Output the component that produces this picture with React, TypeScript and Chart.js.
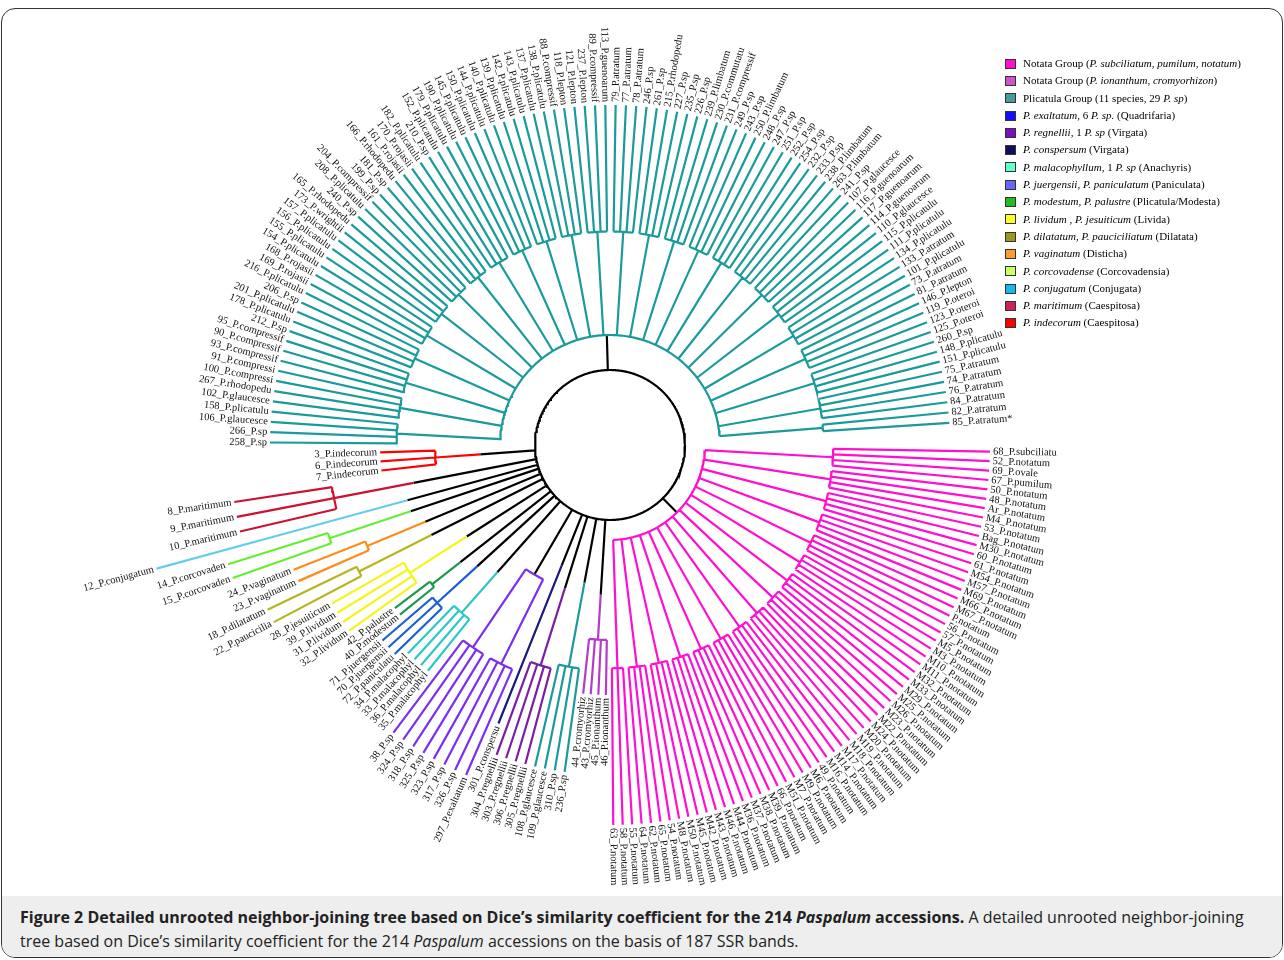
import React, { useEffect, useRef } from "react";
import Chart from "chart.js/auto";

// leaves of each clade, in clockwise order starting from the east
const magentaLeaves = ["68_P.subciliatu", "52_P.notatum", "69_P.ovale", "67_P.pumilum", "50_P.notatum", "48_P.notatum", "Ar_P.notatum", "M4_P.notatum", "53_P.notatum", "Bag_P.notatum", "M30_P.notatum", "60_P.notatum", "61_P.notatum", "M54_P.notatum", "M57_P.notatum", "M69_P.notatum", "M66_P.notatum", "M67_P.notatum", "P.notatum", "56_P.notatum", "57_P.notatum", "M5_P.notatum", "M3_P.notatum", "M10_P.notatum", "M11_P.notatum", "M32_P.notatum", "M33_P.notatum", "M29_P.notatum", "M25_P.notatum", "M26_P.notatum", "M23_P.notatum", "M22_P.notatum", "M24_P.notatum", "M20_P.notatum", "M19_P.notatum", "M18_P.notatum", "M17_P.notatum", "M14_P.notatum", "M16_P.notatum", "49_P.notatum", "M6_P.notatum", "M9_P.notatum", "M7_P.notatum", "M51_P.notatum", "66_P.notatum", "M39_P.notatum", "M38_P.notatum", "M37_P.notatum", "M36_P.notatum", "M44_P.notatum", "M46_P.notatum", "M43_P.notatum", "M42_P.notatum", "M45_P.notatum", "M50_P.notatum", "M8_P.notatum", "54_P.notatum", "65_P.notatum", "62_P.notatum", "64_P.notatum", "55_P.notatum", "58_P.notatum", "63_P.notatum"];
const ionanthumLeaves = ["46_P.ionanthum", "45_P.ionanthum", "43_P.cromyorhiz", "44_P.cromyorhiz"];
const tealSmallLeaves = ["236_P.sp", "310_P.sp", "109_P.glaucesce", "108_P.glaucesce"];
const regnelliiLeaves = ["305_P.regnellii", "306_P.regnellii", "303_P.regnellii", "304_P.regnellii"];
const conspersumLeaves = ["301_P.conspersu"];
const quadrifariaLeaves = ["297_P.exaltatum", "326_P.sp", "317_P.sp", "323_P.sp", "325_P.sp", "318_P.sp", "324_P.sp", "38_P.sp"];
const malacoLeaves = ["35_P.malacophyl", "36_P.malacophyl", "33_P.malacophyl", "34_P.malacophyl"];
const paniculataLeaves = ["72_P.paniculatu", "70_P.juergensii", "71_P.juergensii"];
const modestaLeaves = ["40_P.modestum", "42_P.palustre"];
const lividaLeaves = ["32_P.lividum", "31_P.lividum", "39_P.lividum", "28_P.jesuiticum"];
const dilatataLeaves = ["22_P.paucicilia", "18_P.dilatatum"];
const distichaLeaves = ["23_P.vaginatum", "24_P.vaginatum"];
const corcoLeaves = ["15_P.corcovaden", "14_P.corcovaden"];
const conjugataLeaves = ["12_P.conjugatum"];
const maritimumLeaves = ["10_P.maritimum", "9_P.maritimum", "8_P.maritimum"];
const indecorumLeaves = ["7_P.indecorum", "6_P.indecorum", "3_P.indecorum"];
const plicatulaLeaves = ["258_P.sp", "266_P.sp", "106_P.glaucesce", "158_P.plicatulu", "102_P.glaucesce", "267_P.rhodopedu", "100_P.compressi", "91_P.compressi", "93_P.compressif", "90_P.compressif", "95_P.compressif", "212_P.sp", "178_P.plicatulu", "201_P.plicatulu", "206_P.sp", "216_P.plicatulu", "169_P.rojasii", "168_P.rojasii", "154_P.plicatulu", "155_P.plicatulu", "156_P.plicatulu", "157_P.plicatulu", "173_P.wrightii", "165_P.rhodopedu", "240_P.sp", "208_P.plicatulu", "204_P.compressif", "199_P.sp", "181_P.sp", "166_P.rhodopedu", "161_P.rojasii", "170_P.rojasii", "182_P.plicatulu", "210_P.sp", "152_P.plicatulu", "179_P.plicatulu", "190_P.plicatulu", "145_P.plicatulu", "150_P.plicatulu", "144_P.plicatulu", "140_P.plicatulu", "139_P.plicatulu", "142_P.plicatulu", "143_P.plicatulu", "137_P.plicatulu", "138_P.plicatulu", "88_P.compressif", "118_P.lepton", "121_P.lepton", "237_P.lepton", "89_P.compressif", "113_P.guenoarum", "79_P.atratum", "77_P.atratum", "78_P.atratum", "246_P.sp", "261_P.sp", "215_P.rhodopedu", "227_P.sp", "235_P.sp", "226_P.sp", "239_P.limbatum", "230_P.commutatu", "231_P.compressif", "249_P.sp", "243_P.sp", "250_P.limbatum", "248_P.sp", "247_P.sp", "251_P.sp", "252_P.sp", "254_P.sp", "232_P.sp", "233_P.sp", "238_P.limbatum", "263_P.limbatum", "241_P.sp", "107_P.glaucesce", "116_P.guenoarum", "117_P.guenoarum", "114_P.guenoarum", "110_P.glaucesce", "115_P.plicatulu", "111_P.plicatulu", "134_P.plicatulu", "133_P.atratum", "101_P.plicatulu", "73_P.atratum", "81_P.atratum", "146_P.lepton", "119_P.oteroi", "123_P.oteroi", "125_P.oteroi", "260_P.sp", "148_P.plicatulu", "151_P.plicatulu", "75_P.atratum", "74_P.atratum", "76_P.atratum", "84_P.atratum", "82_P.atratum", "85_P.atratum*"];

// clade table: leaves, colour, node radius, tip radius, relative leaf spacing
const clades = [
  { leaves: magentaLeaves, color: "#ff10d0", node: 95, tip: 380, spread: 0.82 },
  { leaves: ionanthumLeaves, color: "#b43cc8", node: 150, tip: 250, spread: 1 },
  { leaves: tealSmallLeaves, color: "#1a9a9a", node: 140, tip: 330, spread: 1 },
  { leaves: regnelliiLeaves, color: "#7a1fa0", node: 150, tip: 330, spread: 1 },
  { leaves: conspersumLeaves, color: "#1a1a7a", node: 130, tip: 300, spread: 1 },
  { leaves: quadrifariaLeaves, color: "#7b2ff0", node: 150, tip: 360, spread: 1.1 },
  { leaves: malacoLeaves, color: "#2cc8c8", node: 170, tip: 290, spread: 1 },
  { leaves: paniculataLeaves, color: "#1a5fd6", node: 180, tip: 300, spread: 1 },
  { leaves: modestaLeaves, color: "#1a9a4a", node: 190, tip: 270, spread: 1 },
  { leaves: lividaLeaves, color: "#f5f51a", node: 170, tip: 320, spread: 1.1 },
  { leaves: dilatataLeaves, color: "#b5b520", node: 200, tip: 380, spread: 1.2 },
  { leaves: distichaLeaves, color: "#ff8c1a", node: 200, tip: 340, spread: 1.2 },
  { leaves: corcoLeaves, color: "#66ee33", node: 210, tip: 400, spread: 1.2 },
  { leaves: conjugataLeaves, color: "#66ccee", node: 210, tip: 470, spread: 1.2 },
  { leaves: maritimumLeaves, color: "#cc1133", node: 200, tip: 380, spread: 1.3 },
  { leaves: indecorumLeaves, color: "#ff0000", node: 130, tip: 230, spread: 1.3 },
  { leaves: plicatulaLeaves, color: "#1a9a9a", node: 110, tip: 340, spread: 1 },
];

const legendItems: [string, React.ReactNode][] = [
  ["#ff10d0", <>Notata Group (<i>P. subciliatum, pumilum, notatum</i>)</>],
  ["#cc55cc", <>Notata Group (<i>P. ionanthum, cromyorhizon</i>)</>],
  ["#4a9a9a", <>Plicatula Group (11 species, 29&nbsp;<i>P. sp</i>)</>],
  ["#1010ff", <><i>P. exaltatum</i>, 6&nbsp;<i>P. sp.</i>&nbsp;(Quadrifaria)</>],
  ["#7a10c0", <><i>P. regnellii</i>, 1&nbsp;<i>P. sp</i>&nbsp;(Virgata)</>],
  ["#10105a", <><i>P. conspersum</i>&nbsp;(Virgata)</>],
  ["#66ffcc", <><i>P. malacophyllum</i>, 1&nbsp;<i>P. sp</i>&nbsp;(Anachyris)</>],
  ["#6666ff", <><i>P. juergensii, P. paniculatum</i>&nbsp;(Paniculata)</>],
  ["#22bb22", <><i>P. modestum, P. palustre</i>&nbsp;(Plicatula/Modesta)</>],
  ["#ffff22", <><i>P. lividum , P. jesuiticum</i>&nbsp;(Livida)</>],
  ["#999922", <><i>P. dilatatum, P. pauciciliatum</i>&nbsp;(Dilatata)</>],
  ["#ff9933", <><i>P. vaginatum</i>&nbsp;(Disticha)</>],
  ["#ccff66", <><i>P. corcovadense</i>&nbsp;(Corcovadensia)</>],
  ["#11bbee", <><i>P. conjugatum</i>&nbsp;(Conjugata)</>],
  ["#cc2255", <><i>P. maritimum</i>&nbsp;(Caespitosa)</>],
  ["#ff0000", <><i>P. indecorum</i>&nbsp;(Caespitosa)</>],
];

const CORE = 75;
const pt = (r: number, deg: number) => {
  const a = (deg * Math.PI) / 180;
  return { x: r * Math.cos(a), y: -r * Math.sin(a) };
};
const arc = (r: number, a: number, b: number) => {
  const out = [];
  const n = Math.max(2, Math.ceil(Math.abs(b - a)));
  for (let i = 0; i <= n; i++) out.push(pt(r, a + ((b - a) * i) / n));
  return out;
};
const GAP = { x: NaN, y: NaN };

const App = () => {
  const ref = useRef<HTMLCanvasElement>(null);
  useEffect(() => {
    document.body.style.margin = "0";
    const weight = clades.reduce((s, c) => s + c.leaves.length * c.spread, 0);
    const unit = 357 / weight;
    let cur = 1;
    const labels: { text: string; r: number; a: number }[] = [];
    const black: any[] = [...arc(CORE, 0, 360), GAP];
    const datasets: any[] = [];
    clades.forEach((c) => {
      const st = unit * c.spread;
      const angles = c.leaves.map((_, i) => cur + st * i);
      cur += st * c.leaves.length;
      const mid = (angles[0] + angles[angles.length - 1]) / 2;
      black.push(pt(CORE, mid), pt(c.node, mid), GAP);
      const pts: any[] = [];
      const subR = c.node + (c.tip - c.node) * 0.45;
      const subMids: number[] = [];
      for (let i = 0; i < angles.length; i += 4) {
        const grp = angles.slice(i, i + 4);
        const m = (grp[0] + grp[grp.length - 1]) / 2;
        subMids.push(m);
        pts.push(pt(c.node, m), pt(subR, m), GAP);
        if (grp.length > 1) pts.push(...arc(subR, grp[0], grp[grp.length - 1]), GAP);
        grp.forEach((a, j) => {
          pts.push(pt(subR, a), pt(c.tip, a), GAP);
          labels.push({ text: c.leaves[i + j], r: c.tip + 3, a });
        });
      }
      if (subMids.length > 1) pts.push(...arc(c.node, subMids[0], subMids[subMids.length - 1]), GAP);
      datasets.push({ data: pts, borderColor: c.color, borderWidth: 2.2, pointRadius: 0, showLine: true });
    });
    datasets.push({ data: black, borderColor: "#000", borderWidth: 2.2, pointRadius: 0, showLine: true });

    const labelPlugin = {
      id: "leafLabels",
      afterDatasetsDraw(chart: any) {
        const { ctx, scales } = chart;
        ctx.save();
        ctx.font = "10.5px 'Liberation Serif'";
        ctx.fillStyle = "#111";
        ctx.textBaseline = "middle";
        labels.forEach((l) => {
          const p = pt(l.r, l.a);
          const px = scales.x.getPixelForValue(p.x);
          const py = scales.y.getPixelForValue(p.y);
          ctx.save();
          ctx.translate(px, py);
          const rad = (l.a * Math.PI) / 180;
          if (l.a > 90 && l.a < 270) {
            ctx.rotate(rad + Math.PI);
            ctx.textAlign = "right";
          } else {
            ctx.rotate(rad);
            ctx.textAlign = "left";
          }
          ctx.fillText(l.text, 0, 0);
          ctx.restore();
        });
        ctx.restore();
      },
    };

    const chart = new Chart(ref.current!, {
      type: "scatter",
      data: { datasets },
      options: {
        animation: false,
        responsive: false,
        layout: { padding: 0 },
        plugins: { legend: { display: false }, tooltip: { enabled: false } },
        scales: {
          x: { type: "linear", min: -610, max: 674, display: false },
          y: { type: "linear", min: -445, max: 445, display: false },
        },
        elements: { line: { tension: 0 } },
      },
      plugins: [labelPlugin],
    });
    return () => chart.destroy();
  }, []);

  return (
    <div style={{ position: "relative", width: 1284, height: 960, background: "#fff" }}>
      <div style={{ position: "absolute", left: 1, top: 8, width: 1280, height: 948, border: "1.5px solid #333", borderRadius: 14, overflow: "hidden" }}>
        <div style={{ position: "absolute", left: 0, top: 887, width: "100%", height: 70, background: "#eeeeee" }} />
      </div>
      <canvas ref={ref} width={1284} height={890} style={{ position: "absolute", left: 0, top: 0 }} />
      <div style={{ position: "absolute", left: 1005, top: 55, fontFamily: "'Liberation Serif', serif", fontSize: 11, lineHeight: "17.3px" }}>
        {legendItems.map(([c, t], i) => (
          <div key={i} style={{ display: "flex", alignItems: "center", whiteSpace: "pre" }}>
            <span style={{ width: 11, height: 10, background: c, border: "1px solid #333", marginRight: 7, boxSizing: "border-box" }} />
            <span>{t}</span>
          </div>
        ))}
      </div>
      <div style={{ position: "absolute", left: 20, top: 905, width: 1245, fontFamily: "'Open Sans', sans-serif", fontSize: 16, lineHeight: "24px", color: "#222" }}>
        <b>Figure 2 Detailed unrooted neighbor-joining tree based on Dice’s similarity coefficient for the 214 <i>Paspalum</i> accessions.</b> A detailed unrooted neighbor-joining tree based on Dice’s similarity coefficient for the 214 <i>Paspalum</i> accessions on the basis of 187 SSR bands.
      </div>
    </div>
  );
};

export default App;
